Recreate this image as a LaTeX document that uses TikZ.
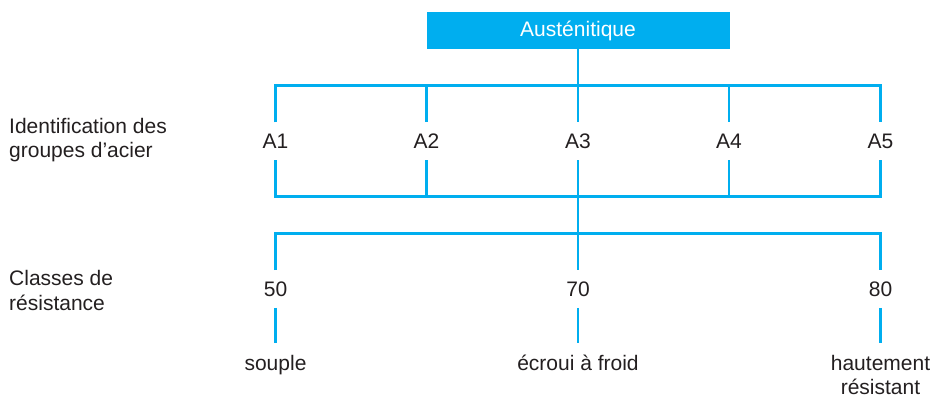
\documentclass[tikz,border=0pt]{standalone}
\usepackage{fontspec}
\setmainfont{Liberation Sans}
\definecolor{cy}{HTML}{00AEEF}
\definecolor{tx}{HTML}{231F20}
\begin{document}
\begin{tikzpicture}[x=1pt,y=-1pt,
  every node/.style={font=\fontsize{21}{24.5}\selectfont, text=tx, inner sep=0pt},
  conn/.style={draw=cy, line width=2.4pt, line join=miter},
  headbox/.style={fill=cy, text=white, minimum width=303pt, minimum height=37pt},
  grp/.style={minimum height=37.5pt},
  cls/.style={minimum height=37.5pt},
  desc/.style={anchor=base, text height=27pt},
  sidelab/.style={anchor=base west}
]
\useasboundingbox (0,0) rectangle (934,397);

\node[headbox] (top) at (578,30.5) {Austénitique};

\foreach \i/\x in {1/275.5,2/426.5,3/578,4/729,5/880.5}{
  \node[grp] (A\i) at (\x,141.2) {A\i};
  \coordinate (t\i) at (\x,85.5);
  \coordinate (b\i) at (\x,196.5);
}

\node[cls] (N50) at (275.5,289) {50};
\node[cls] (N70) at (578,289) {70};
\node[cls] (N80) at (880.5,289) {80};
\coordinate (c1) at (275.5,233.3);
\coordinate (c5) at (880.5,233.3);

\node[desc] (souple) at (275.5,370) {souple};
\node[desc] (ecroui) at (578,370) {écroui à froid};
\node[desc] (haut) at (880.5,370) {\begin{tabular}[t]{@{}c@{}}hautement\\résistant\end{tabular}};

\node[sidelab] (lab1) at (9,133.3) {\begin{tabular}[t]{@{}l@{}}Identification des\\groupes d’acier\end{tabular}};
\node[sidelab] (lab2) at (9,285.5) {\begin{tabular}[t]{@{}l@{}}Classes de\\résistance\end{tabular}};

% upper bracket
\draw[conn] (top.south) -- (t3);
\draw[conn] (A1.north) -- (t1) -- (t5) -- (A5.north);
\draw[conn] (t2) -- (A2.north);
\draw[conn] (t3) -- (A3.north);
\draw[conn] (t4) -- (A4.north);
% lower bracket
\draw[conn] (A1.south) -- (b1) -- (b5) -- (A5.south);
\draw[conn] (A2.south) -- (b2);
\draw[conn] (A4.south) -- (b4);
\draw[conn] (A3.south) -- (N70.north);
% classes bracket
\draw[conn] (N50.north) -- (c1) -- (c5) -- (N80.north);
% descriptions
\draw[conn] (N50.south) -- (souple.north);
\draw[conn] (N70.south) -- (ecroui.north);
\draw[conn] (N80.south) -- (haut.north);
\end{tikzpicture}
\end{document}
